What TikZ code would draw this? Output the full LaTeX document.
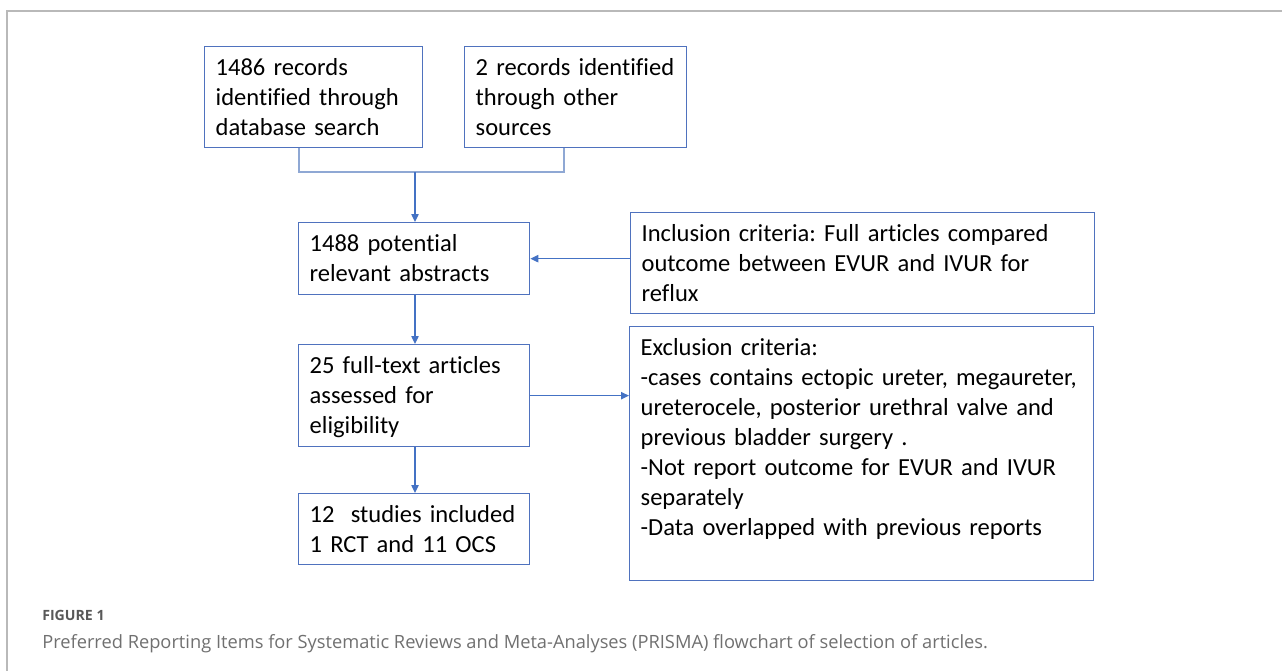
\documentclass[tikz,border=0pt]{standalone}
\usepackage{fontspec}
\setmainfont{Carlito}[Ligatures=NoCommon]
\newfontfamily\capfont{Open Sans}
\usetikzlibrary{arrows.meta}
\frenchspacing

\definecolor{boxblue}{RGB}{79,114,190}
\definecolor{arrowblue}{RGB}{68,114,196}
\definecolor{joinblue}{RGB}{143,168,212}
\definecolor{framegray}{RGB}{185,185,185}
\definecolor{capdark}{RGB}{88,88,88}
\definecolor{caplight}{RGB}{112,112,112}

\tikzset{
  flowbox/.style={draw=boxblue, line width=1pt, anchor=north west, align=left,
    inner xsep=8.25pt, inner ysep=0pt, text height=21.75pt,
    font=\fontsize{18.4pt}{22.5pt}\selectfont},
  narrowbox/.style={flowbox, text width=156.75pt},
  widebox/.style={flowbox, text width=331.5pt},
  flowarrow/.style={draw=arrowblue, line width=1pt, -{Triangle[length=6pt,width=5.5pt]}},
  joinline/.style={draw=joinblue, line width=0.9pt},
  frameline/.style={draw=framegray, line width=1.1pt},
}

\begin{document}
\begin{tikzpicture}[x=0.75pt, y=-0.75pt]
  \useasboundingbox (0,0) rectangle (1282,671);

  % outer frame (top and left rules)
  \draw[frameline] (1282,11) -- (7,11) -- (7,671);

  % identification
  \node[flowbox, text width=147pt, text depth=54pt] (db) at (204,46)
    {1486 records\\identified through\\database search};
  \node[flowbox, text width=150pt, text depth=54pt] (other) at (464,46)
    {2 records identified\\through other\\sources};

  % screening and eligibility column
  \node[narrowbox, text depth=32.25pt] (abs) at (298,222)
    {1488 potential\\relevant abstracts};
  \node[narrowbox, text depth=54.75pt] (full) at (298,344)
    {25 full-text articles\\assessed for\\eligibility};
  \node[narrowbox, text depth=31.5pt] (incl) at (298,493)
    {12\ \ studies included\\1 RCT and 11 OCS};

  % criteria boxes
  \node[widebox, text depth=54pt] (incrit) at (630,212)
    {Inclusion criteria: Full articles compared\\outcome between EVUR and IVUR for\\reflux};
  \node[widebox, text depth=168.75pt] (excrit) at (629,326)
    {Exclusion criteria:\\-cases contains ectopic ureter, megaureter,\\ureterocele, posterior urethral valve and\\previous bladder surgery .\\-Not report outcome for EVUR and IVUR\\separately\\-Data overlapped with previous reports};

  % merge of the two sources
  \coordinate (jdb) at (299,172);
  \coordinate (jot) at (564,172);
  \coordinate (jmid) at (415,172);
  \draw[joinline] (db.south -| jdb) -- (jdb) -- (jot) -- (other.south -| jot);
  \draw[flowarrow] (jmid) -- (abs.north -| jmid);

  % main flow
  \draw[flowarrow] (abs.south -| jmid) -- (full.north -| jmid);
  \draw[flowarrow] (full.south -| jmid) -- (incl.north -| jmid);
  \draw[flowarrow] (incrit.west |- abs.east) -- (abs.east);
  \draw[flowarrow] (full.east) -- (excrit.west |- full.east);

  % caption
  \node[anchor=base west, inner sep=0pt, text=capdark,
    font=\capfont\bfseries\fontsize{10.6pt}{12pt}\selectfont] (figlabel) at (42,620) {FIGURE 1};
  \node[anchor=base west, inner sep=0pt, text=caplight,
    font=\capfont\fontsize{13.7pt}{16pt}\selectfont] (figcaption) at (42,648)
    {Preferred Reporting Items for Systematic Reviews and Meta-Analyses (PRISMA) flowchart of selection of articles.};
\end{tikzpicture}
\end{document}
